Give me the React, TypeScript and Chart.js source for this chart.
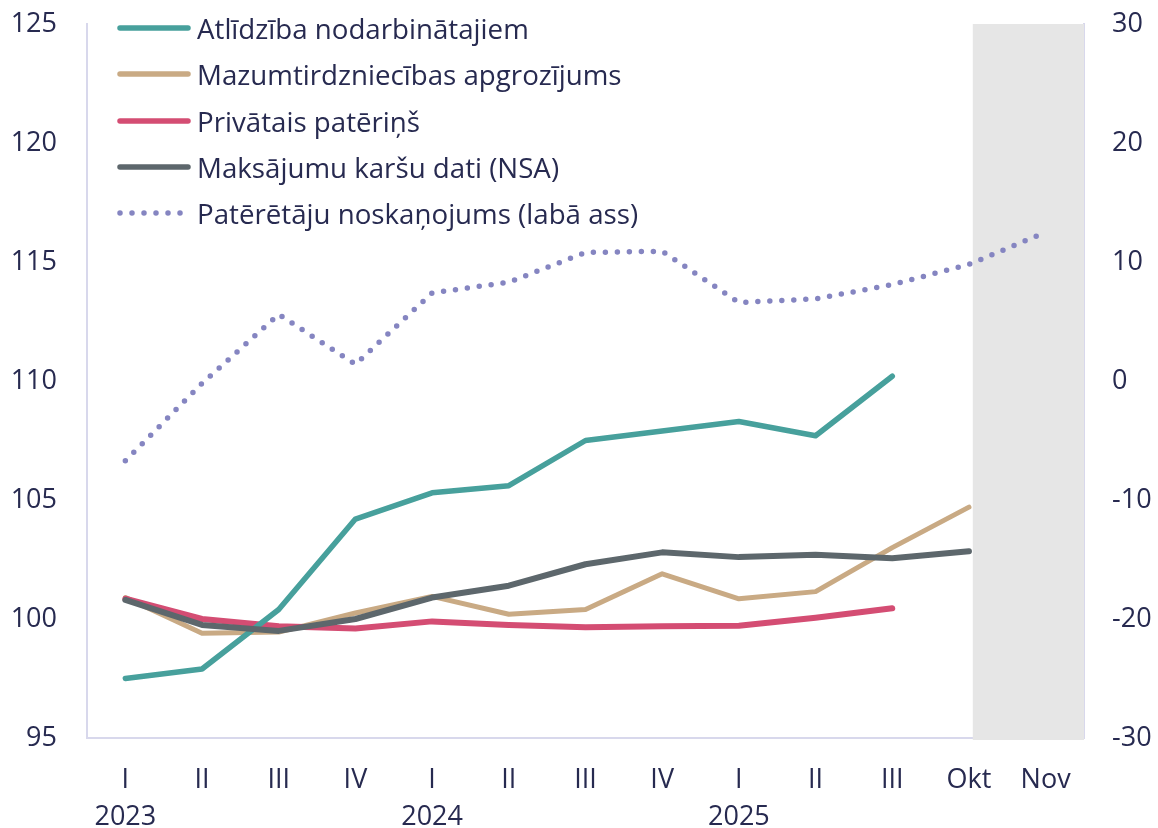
import React, { useEffect, useRef } from "react";
import { Chart, registerables } from "chart.js";

Chart.register(...registerables);

const categories: string[][] = [
  ["I", "2023"], ["II", ""], ["III", ""], ["IV", ""],
  ["I", "2024"], ["II", ""], ["III", ""], ["IV", ""],
  ["I", "2025"], ["II", ""], ["III", ""], ["Okt", ""], ["Nov", ""],
];

const compensation: (number | null)[] = [97.5, 97.9, 100.4, 104.2, 105.3, 105.6, 107.5, 107.9, 108.3, 107.7, 110.2, null, null];
const retailTurnover: (number | null)[] = [100.9, 99.4, 99.45, 100.25, 100.95, 100.2, 100.4, 101.9, 100.85, 101.15, 103.0, 104.7, null];
const privateConsumption: (number | null)[] = [100.85, 100.0, 99.7, 99.6, 99.9, 99.75, 99.65, 99.7, 99.72, 100.05, 100.45, null, null];
const cardData: (number | null)[] = [100.8, 99.75, 99.5, 100.0, 100.9, 101.4, 102.3, 102.8, 102.6, 102.7, 102.55, 102.85, null];
const consumerConfidence: (number | null)[] = [-6.7, -0.2, 5.6, 1.4, 7.4, 8.3, 10.8, 10.9, 6.6, 6.9, 8.1, 9.8, 12.5];

const leftTicks = { min: 95, max: 125, step: 5 };
const rightTicks = { min: -30, max: 30, step: 10 };

const FONT = "'Open Sans', sans-serif";
const TEXT = "#272a50";
const AXIS = "#d8d8ec";

const COLORS = {
  teal: "#47a09c",
  tan: "#c9aa84",
  red: "#d44d73",
  gray: "#5d676c",
  dots: "#8585c1",
};

const legendItems = [
  { label: "Atlīdzība nodarbinātajiem", color: COLORS.teal, dotted: false },
  { label: "Mazumtirdzniecības apgrozījums", color: COLORS.tan, dotted: false },
  { label: "Privātais patēriņš", color: COLORS.red, dotted: false },
  { label: "Maksājumu karšu dati (NSA)", color: COLORS.gray, dotted: false },
  { label: "Patērētāju noskaņojums (labā ass)", color: COLORS.dots, dotted: true },
];

const shadePlugin = {
  id: "shade",
  beforeDatasetsDraw(chart: any) {
    const { ctx, chartArea, scales } = chart;
    const x = scales.x;
    const a = x.getPixelForValue(11);
    const b = x.getPixelForValue(12);
    const start = a + (b - a) * 0.05;
    ctx.save();
    ctx.fillStyle = "#e6e6e6";
    ctx.fillRect(start, chartArea.top, chartArea.right - start, chartArea.bottom - chartArea.top + 2);
    ctx.restore();
  },
};

function noPad(scale: any) {
  scale.paddingTop = 0;
  scale.paddingBottom = 0;
  scale.paddingLeft = 0;
  scale.paddingRight = 0;
}

export default function App() {
  const ref = useRef<HTMLCanvasElement | null>(null);

  useEffect(() => {
    if (!ref.current) return;
    const chart = new Chart(ref.current, {
      type: "line",
      data: {
        labels: categories,
        datasets: [
          { label: legendItems[0].label, data: compensation, borderColor: COLORS.teal, backgroundColor: COLORS.teal, borderWidth: 5.5, pointRadius: 0, yAxisID: "y", order: 1, borderCapStyle: "round", borderJoinStyle: "round", tension: 0 },
          { label: legendItems[1].label, data: retailTurnover, borderColor: COLORS.tan, backgroundColor: COLORS.tan, borderWidth: 5, pointRadius: 0, yAxisID: "y", order: 3, borderCapStyle: "round", borderJoinStyle: "round", tension: 0 },
          { label: legendItems[2].label, data: privateConsumption, borderColor: COLORS.red, backgroundColor: COLORS.red, borderWidth: 6, pointRadius: 0, yAxisID: "y", order: 2, borderCapStyle: "round", borderJoinStyle: "round", tension: 0 },
          { label: legendItems[3].label, data: cardData, borderColor: COLORS.gray, backgroundColor: COLORS.gray, borderWidth: 6, pointRadius: 0, yAxisID: "y", order: 0, borderCapStyle: "round", borderJoinStyle: "round", tension: 0 },
          { label: legendItems[4].label, data: consumerConfidence, borderColor: COLORS.dots, backgroundColor: COLORS.dots, borderWidth: 5.5, borderDash: [0, 12], borderCapStyle: "round", pointRadius: 0, yAxisID: "y1", order: 4, tension: 0 },
        ],
      },
      options: {
        animation: false,
        responsive: false,
        maintainAspectRatio: false,
        layout: { padding: { top: 24, left: 0, right: 0, bottom: 0 } },
        plugins: {
          legend: { display: false },
          tooltip: { enabled: false },
        },
        scales: {
          x: {
            offset: true,
            grid: { display: false, drawTicks: false },
            border: { display: true, color: AXIS, width: 2 },
            ticks: {
              color: TEXT,
              font: { family: FONT, size: 27, lineHeight: 1.4 },
              padding: 23,
              maxRotation: 0,
              autoSkip: false,
            },
            afterFit(scale: any) { scale.height = 90; noPad(scale); },
          },
          y: {
            position: "left",
            min: leftTicks.min,
            max: leftTicks.max,
            grid: { display: false, drawTicks: false },
            border: { display: true, color: AXIS, width: 2 },
            ticks: { stepSize: leftTicks.step, color: TEXT, font: { family: FONT, size: 27 }, padding: 30 },
            afterFit(scale: any) { scale.width = 87; noPad(scale); },
          },
          y1: {
            position: "right",
            min: rightTicks.min,
            max: rightTicks.max,
            grid: { display: false, drawTicks: false },
            border: { display: true, color: AXIS, width: 2 },
            ticks: { stepSize: rightTicks.step, color: TEXT, font: { family: FONT, size: 27 }, padding: 28 },
            afterFit(scale: any) { scale.width = 74; noPad(scale); },
          },
        },
      },
      plugins: [shadePlugin],
    } as any);
    return () => chart.destroy();
  }, []);

  const rowCenters = [28, 74, 121, 167, 213];

  return (
    <div style={{ position: "fixed", left: 0, top: 0, width: 1158, height: 828, background: "#fff" }}>
      <canvas ref={ref} width={1158} height={828} style={{ width: 1158, height: 828, display: "block" }} />
      {legendItems.map((item, i) => (
        <div
          key={item.label}
          style={{
            position: "absolute",
            left: 116,
            top: rowCenters[i] - 18,
            height: 36,
            display: "flex",
            alignItems: "center",
            fontFamily: FONT,
            fontSize: 27.7,
            color: TEXT,
            whiteSpace: "nowrap",
          }}
        >
          <svg width={76} height={10} style={{ marginRight: 5 }}>
            {item.dotted ? (
              <line x1={4} y1={5} x2={72} y2={5} stroke={item.color} strokeWidth={5.5} strokeLinecap="round" strokeDasharray="0 12" />
            ) : (
              <line x1={4} y1={5} x2={72} y2={5} stroke={item.color} strokeWidth={5.5} strokeLinecap="round" />
            )}
          </svg>
          <span>{item.label}</span>
        </div>
      ))}
    </div>
  );
}
